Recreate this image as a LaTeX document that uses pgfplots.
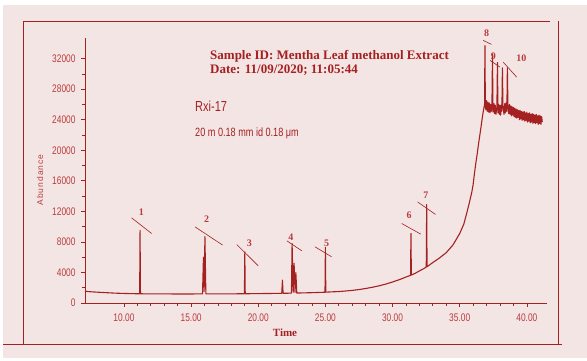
\documentclass[border=0pt]{standalone}
\usepackage{pgfplots}
\pgfplotsset{compat=1.18}
\usepackage{fontspec}
\setmainfont{Liberation Serif}
\newfontfamily\cond[FakeStretch=0.76]{Liberation Sans}
\newfontfamily\spaced[LetterSpace=12]{Liberation Sans}
\definecolor{bgpink}{RGB}{244,229,229}
\definecolor{dred}{RGB}{165,32,32}
\definecolor{tred}{RGB}{185,60,60}
\begin{document}
\begin{tikzpicture}[x=1pt,y=1pt]
\fill[white] (0,0) rectangle (587,361);
\fill[bgpink] (3,3) rectangle (587,356);
\coordinate (A) at (85,58);
\begin{axis}[
  at={(A)}, anchor=south west,
  scale only axis, width=462pt, height=265pt,
  xmin=7.1, xmax=41.5, ymin=0, ymax=34700,
  axis lines*=left, axis line style={dred, line width=0.8pt, -},
  clip=false,
  xtick={10,15,20,25,30,35,40}, minor x tick num=4,
  ytick={0,4000,8000,12000,16000,20000,24000,28000,32000}, minor y tick num=1,
  tick align=outside, major tick length=4pt, minor tick length=3pt,
  tick style={dred, line width=0.7pt},
  /pgf/number format/assume math mode=true,
  xticklabel style={font=\cond\fontsize{11}{11}\selectfont, text=tred, /pgf/number format/fixed, /pgf/number format/fixed zerofill, /pgf/number format/precision=2, yshift=-3pt},
  yticklabel style={font=\cond\fontsize{11}{11}\selectfont, text=tred, /pgf/number format/fixed, /pgf/number format/set thousands separator={}, xshift=-2pt},
  scaled ticks=false,
]
\addplot[dred, line width=1.1pt, line join=round] coordinates {
(7.10,1560) (7.3,1500) (7.6,1460) (8.0,1420) (8.5,1370) (9.0,1320) (9.5,1280) (10.0,1250) (10.5,1230) (11.0,1210)
(11.17,1210) (11.2,9500) (11.23,1210) (11.5,1200) (12,1200) (13,1190) (14,1180) (15,1180) (15.5,1190) (15.85,1200)
(15.92,6000) (15.97,1500) (16.03,8700) (16.1,1200) (16.5,1190) (17,1190) (18,1200) (18.97,1210) (19.0,6700) (19.03,1210)
(20,1230) (21,1250) (21.75,1270) (21.8,3000) (21.85,1270) (22.2,1280) (22.47,1300) (22.52,7800) (22.6,1400) (22.67,5200)
(22.74,1400) (22.8,4000) (22.87,1300) (23.5,1330) (24,1350) (24.97,1410) (25.0,7300) (25.03,1420) (25.5,1460) (26,1500)
(26.5,1570) (27,1650) (27.5,1760) (28,1900) (28.5,2060) (29,2250) (29.5,2480) (30,2750) (30.5,3050) (31,3400)
(31.34,3620) (31.37,9100) (31.40,3660) (31.7,3900) (32,4200) (32.3,4480) (32.51,4700) (32.54,12900) (32.57,4750) (33,5300)
(33.5,5900) (34,6600) (34.5,7600) (35,9100) (35.3,10300) (35.5,11600) (35.7,13000) (35.9,14500) (36.0,15500) (36.1,17000)
(36.2,18300) (36.3,19500) (36.4,20800) (36.5,22000) (36.6,23200) (36.7,24500) (36.8,25500) (36.85,26000) (36.88,33700) (36.91,25800)
(36.95,25300) (37.00,26500) (37.05,25100) (37.10,26300) (37.15,25000) (37.20,26200) (37.25,24900) (37.30,26000) (37.35,25100) (37.40,25900)
(37.44,32600) (37.48,25000) (37.55,26100) (37.60,24800) (37.65,25900) (37.70,24700) (37.77,25700) (37.81,31500) (37.85,24900) (37.90,26000)
(37.95,24700) (38.00,25900) (38.05,24600) (38.10,25900) (38.14,25100) (38.18,30800) (38.22,25800) (38.30,24700) (38.35,26100) (38.40,24900)
(38.45,26200) (38.51,25100) (38.55,30800) (38.59,25900) (38.65,24800) (38.70,26000) (38.75,24700) (38.80,25800) (38.85,24500) (38.90,25700)
(38.95,24600) (39.00,25600) (39.05,24400) (39.10,25500) (39.15,24300) (39.20,25400) (39.25,24200) (39.30,25300) (39.35,24300) (39.40,25200)
(39.45,24000) (39.50,25200) (39.55,24100) (39.60,25100) (39.65,23900) (39.70,25000) (39.75,24000) (39.80,25100) (39.85,23800) (39.90,24900)
(39.95,23900) (40.00,25000) (40.05,23700) (40.10,24800) (40.15,23800) (40.20,24900) (40.25,23600) (40.30,24700) (40.35,23700) (40.40,24800)
(40.45,23500) (40.50,24700) (40.55,23600) (40.60,24600) (40.65,23500) (40.70,24700) (40.75,23600) (40.80,24500) (40.85,23400) (40.90,24600)
(40.95,23500) (41.00,24500) (41.05,23400) (41.10,24400) (41.15,23700)
};
% peak annotations
\begin{scope}[dred, line width=0.6pt]
\draw (axis cs:10.57,11150) -- (axis cs:12.06,9100);
\draw (axis cs:15.29,9970) -- (axis cs:17.35,7580);
\draw (axis cs:18.4,7660) -- (axis cs:19.99,4880);
\draw (axis cs:22.13,8140) -- (axis cs:23.24,6840);
\draw (axis cs:24.22,7360) -- (axis cs:25.46,6050);
\draw (axis cs:30.68,10410) -- (axis cs:32.1,9020);
\draw (axis cs:31.86,13240) -- (axis cs:33.2,11590);
\draw (axis cs:36.75,34380) -- (axis cs:37.37,33860);
\draw (axis cs:37.26,31760) -- (axis cs:38.0,30890);
\draw (axis cs:38.24,31540) -- (axis cs:39.24,29580);
\end{scope}
\begin{scope}[every node/.style={text=tred, font=\bfseries\fontsize{10}{10}\selectfont, inner sep=0pt}]
\node at (axis cs:11.3,11940) {1};
\node at (axis cs:16.16,10940) {2};
\node at (axis cs:19.33,7800) {3};
\node at (axis cs:22.43,8590) {4};
\node at (axis cs:25.1,7800) {5};
\node at (axis cs:31.24,11500) {6};
\node at (axis cs:32.49,14120) {7};
\node at (axis cs:37.0,35330) {8};
\node at (axis cs:37.5,32300) {9};
\node at (axis cs:39.6,32100) {10};
\end{scope}
\end{axis}
% outer frame
\draw[dred, line width=0.8pt] (23,340) -- (550,340);
\draw[dred, line width=0.8pt] (23,340) -- (23,17);
\draw[dred, line width=0.8pt] (558,340) -- (558,17);
\draw[dred, line width=0.8pt] (3,17) -- (562,17);
% texts
\node[anchor=west, text=dred, font=\bfseries\fontsize{13}{13}\selectfont, inner sep=0pt] at (210,304.3) {Sample ID: Mentha Leaf methanol Extract};
\node[anchor=west, text=dred, font=\bfseries\fontsize{13}{13}\selectfont, inner sep=0pt] at (210,291.2) {Date: 11/09/2020; 11:05:44};
\node[anchor=west, text=dred, font=\cond\fontsize{14.5}{14.5}\selectfont, inner sep=0pt] at (195,255) {Rxi-17};
\node[anchor=west, text=dred, font=\cond\fontsize{12}{12}\selectfont, inner sep=0pt] at (195,228) {20 m 0.18 mm id 0.18 μm};
\node[text=dred, font=\bfseries\fontsize{11}{11}\selectfont, inner sep=0pt] at (285,28) {Time};
\node[rotate=90, text=tred, font=\spaced\fontsize{8.5}{8.5}\selectfont, inner sep=0pt] at (40,181) {Abundance};
\end{tikzpicture}
\end{document}
